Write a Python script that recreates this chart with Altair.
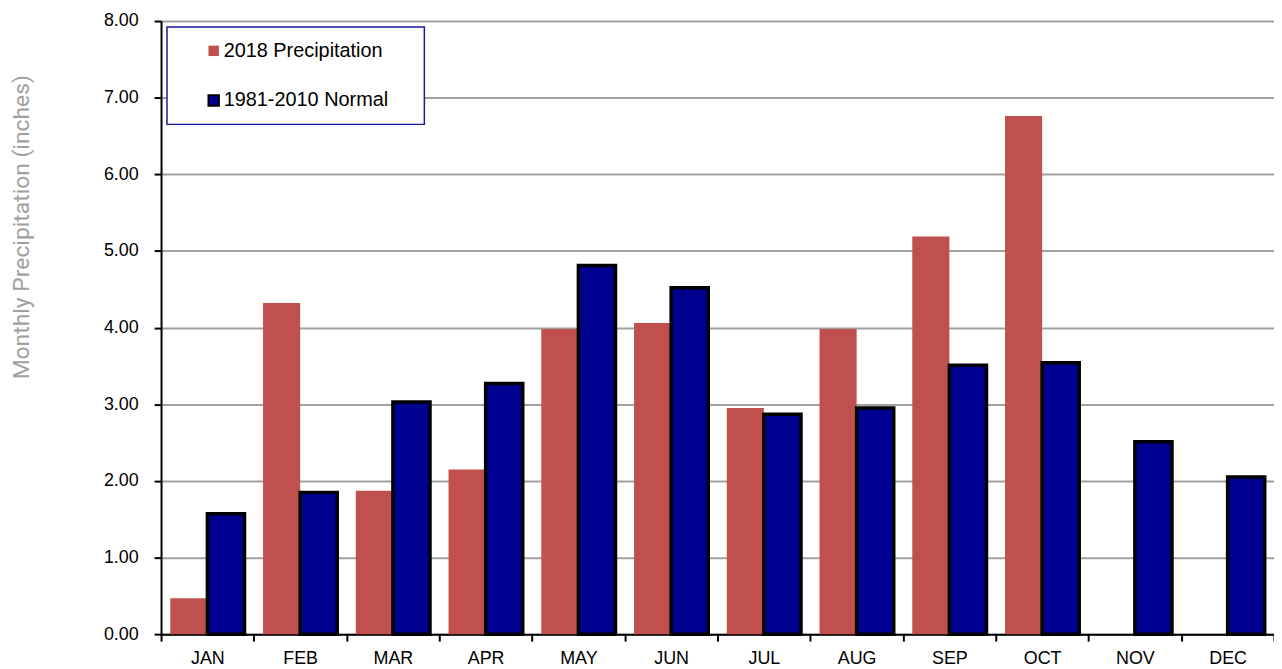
import altair as alt
import pandas as pd

months = ["JAN", "FEB", "MAR", "APR", "MAY", "JUN", "JUL", "AUG", "SEP", "OCT", "NOV", "DEC"]
precip_2018 = [0.47, 4.32, 1.87, 2.15, 3.98, 4.06, 2.95, 3.98, 5.19, 6.76, None, None]
normal_1981_2010 = [1.57, 1.85, 3.03, 3.27, 4.81, 4.52, 2.87, 2.95, 3.51, 3.54, 2.51, 2.05]
series_names = ["2018 Precipitation", "1981-2010 Normal"]
y_ticks = [0, 1, 2, 3, 4, 5, 6, 7, 8]

rows = []
for m, a, b in zip(months, precip_2018, normal_1981_2010):
    if a is not None:
        rows.append({"month": m, "series": series_names[0], "value": a})
    if b is not None:
        rows.append({"month": m, "series": series_names[1], "value": b})
df = pd.DataFrame(rows)

legend = alt.Legend(
    title=".",
    orient="none",
    legendX=6,
    legendY=6,
)

chart = alt.Chart(df).mark_bar(strokeWidth=3.5).encode(
    x=alt.X(
        "month:N",
        sort=months,
        scale=alt.Scale(paddingInner=0, paddingOuter=0),
        axis=alt.Axis(
            title=None,
            tickBand="extent",
            domainColor="black",
            domainWidth=2,
            tickColor="black",
            tickWidth=2,
            tickSize=7,
            labelFont="Liberation Sans",
            labelFontSize=18,
            labelColor="black",
            labelPadding=9,
            labelAngle=0,
            grid=False,
        ),
    ),
    xOffset=alt.XOffset(
        "series:N",
        sort=series_names,
        scale=alt.Scale(domain=series_names, paddingOuter=0.25, paddingInner=0),
    ),
    y=alt.Y(
        "value:Q",
        scale=alt.Scale(domain=[0, 8], nice=False),
        axis=alt.Axis(
            values=y_ticks,
            format=".2f",
            title="Monthly Precipitation (inches)",
            titleFont="Roboto",
            titleFontSize=23,
            titleFontWeight="normal",
            titleColor="#a0a0a0",
            titleX=-128,
            titleY=207,
            domainColor="black",
            domainWidth=2,
            tickColor="black",
            tickWidth=2,
            tickSize=7,
            labelFont="Liberation Sans",
            labelFontSize=18,
            labelColor="black",
            labelPadding=16,
            grid=True,
            gridColor="#a0a0a0",
            gridWidth=2,
        ),
    ),
    color=alt.Color(
        "series:N",
        sort=series_names,
        scale=alt.Scale(domain=series_names, range=["#C0504D", "#000090"]),
        legend=legend,
    ),
    stroke=alt.Stroke(
        "series:N",
        sort=series_names,
        scale=alt.Scale(domain=series_names, range=["transparent", "black"]),
        legend=legend,
    ),
).properties(
    width=1120,
    height=617,
    padding={"left": 154, "top": 11, "right": 0, "bottom": 40},
    autosize=alt.AutoSizeParams(type="none"),
    background="white",
).configure_view(
    stroke=None
).configure_legend(
    padding=14,
    strokeColor="#1A1A9C",
    strokeWidth=1.5,
    fillColor="white",
    symbolType="square",
    symbolSize=110,
    symbolStrokeWidth=2,
    symbolOffset=23,
    labelOffset=0,
    labelLimit=400,
    labelFont="Liberation Sans",
    labelFontSize=20,
    labelColor="black",
    rowPadding=30,
    titleOrient="right",
    titleColor="white",
    titleFontSize=10,
    titlePadding=19,
)

chart.save("out.html", embed_options={"renderer": "svg", "actions": False})
